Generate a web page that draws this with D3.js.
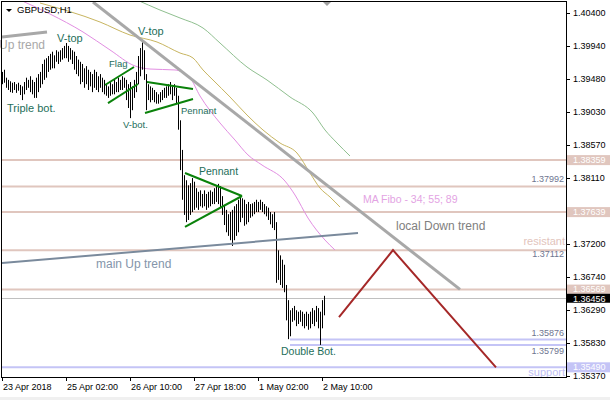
<!DOCTYPE html>
<html><head><meta charset="utf-8">
<script src="https://cdn.jsdelivr.net/npm/d3@7/dist/d3.min.js"></script>
<style>body{margin:0;background:#fff;} svg{display:block;font-family:"Liberation Sans",Arial,sans-serif;}</style>
</head><body><svg id="c" width="610" height="400"></svg>
<script>
// ---------- DATA ----------
const symbol = "GBPUSD,H1";
const highs = [
1.3958,1.3961,1.3950,1.3947,1.3945,1.3943,1.3944,1.3941,1.3943,1.3940,
1.3938,1.3944,1.3950,1.3947,1.3952,1.3947,1.3944,1.3950,1.3955,1.3958,
1.3969,1.3975,1.3977,1.3980,1.3983,1.3986,1.3981,1.3988,1.3986,1.3988,
1.3991,1.3994,1.3998,1.3994,1.3991,1.3988,1.3986,1.3980,1.3975,1.3972,
1.3969,1.3963,1.3966,1.3961,1.3958,1.3955,1.3961,1.3958,1.3952,1.3955,
1.3950,1.3947,1.3941,1.3938,1.3944,1.3941,1.3947,1.3944,1.3950,1.3947,
1.3952,1.3950,1.3947,1.3941,1.3944,1.3938,1.3947,1.3958,1.3980,1.3991,
1.3999,1.3988,1.3955,1.3941,1.3938,1.3936,1.3933,1.3930,1.3927,1.3930,
1.3933,1.3936,1.3938,1.3941,1.3944,1.3938,1.3941,1.3936,1.3925,1.3891,
1.3850,1.3815,1.3808,1.3801,1.3804,1.3811,1.3806,1.3797,1.3792,1.3794,
1.3789,1.3794,1.3789,1.3792,1.3794,1.3792,1.3797,1.3800,1.3803,1.3800,
1.3786,1.3774,1.3767,1.3761,1.3764,1.3767,1.3772,1.3775,1.3781,1.3786,
1.3783,1.3781,1.3775,1.3778,1.3775,1.3776,1.3778,1.3781,1.3778,1.3781,
1.3778,1.3775,1.3772,1.3770,1.3764,1.3761,1.3764,1.3750,1.3711,1.3704,
1.3698,1.3691,1.3663,1.3642,1.3628,1.3631,1.3634,1.3628,1.3626,1.3628,
1.3626,1.3623,1.3626,1.3623,1.3626,1.3631,1.3628,1.3634,1.3631,1.3626,
1.3642,1.3648];
const lows = [
1.3941,1.3943,1.3936,1.3933,1.3930,1.3929,1.3933,1.3929,1.3932,1.3926,
1.3919,1.3927,1.3933,1.3936,1.3930,1.3927,1.3922,1.3922,1.3930,1.3936,
1.3941,1.3947,1.3950,1.3958,1.3961,1.3963,1.3963,1.3972,1.3969,1.3972,
1.3975,1.3977,1.3977,1.3972,1.3975,1.3969,1.3961,1.3955,1.3952,1.3941,
1.3944,1.3936,1.3941,1.3933,1.3938,1.3930,1.3936,1.3933,1.3930,1.3936,
1.3930,1.3927,1.3925,1.3922,1.3925,1.3927,1.3927,1.3930,1.3930,1.3933,
1.3933,1.3936,1.3919,1.3908,1.3894,1.3905,1.3922,1.3930,1.3941,1.3952,
1.3961,1.3947,1.3905,1.3919,1.3916,1.3919,1.3916,1.3914,1.3914,1.3916,
1.3919,1.3922,1.3922,1.3925,1.3927,1.3919,1.3925,1.3914,1.3878,1.3822,
1.3781,1.3760,1.3750,1.3753,1.3760,1.3764,1.3767,1.3770,1.3767,1.3772,
1.3770,1.3772,1.3767,1.3770,1.3772,1.3775,1.3775,1.3778,1.3775,1.3770,
1.3760,1.3746,1.3736,1.3731,1.3725,1.3717,1.3725,1.3731,1.3736,1.3750,
1.3756,1.3745,1.3747,1.3750,1.3756,1.3758,1.3761,1.3764,1.3764,1.3767,
1.3764,1.3761,1.3758,1.3753,1.3747,1.3742,1.3739,1.3666,1.3670,1.3663,
1.3659,1.3653,1.3614,1.3588,1.3592,1.3612,1.3614,1.3606,1.3609,1.3612,
1.3606,1.3603,1.3606,1.3601,1.3603,1.3609,1.3606,1.3612,1.3603,1.3580,
1.3603,1.3621];
const currentPrice = 1.36456;

const yTicks = [1.40400,1.39940,1.39480,1.39030,1.38570,1.38110,1.37650,1.37200,1.36740,1.36290,1.35830,1.35370];
const xTickIdx = [0,32,64,96,128,160];
const xTickLabels = ["23 Apr 2018","25 Apr 02:00","26 Apr 10:00","27 Apr 18:00","1 May 02:00","2 May 10:00"];

// Moving averages (bar index, price)
const ma34 = [[9,1.40576],[24,1.40382],[40.5,1.40133],[54,1.39884],[66.5,1.39662],[74,1.39620],[86.5,1.39607],[94,1.39496],[99,1.39247],[109,1.38873],[116.5,1.38637],[123,1.38430],[130,1.38291],[141.5,1.38069],[146.5,1.37876],[153,1.37557],[161.5,1.37252],[166.5,1.37114]];
const ma55 = [[19,1.40534],[49,1.40271],[64,1.40091],[77.5,1.39994],[89,1.39842],[95.5,1.39773],[100.5,1.39607],[105.5,1.39468],[114,1.39233],[122.5,1.38983],[130.5,1.38776],[139,1.38596],[147.5,1.38457],[154,1.38180],[159,1.37972],[164,1.37848],[169,1.37709]];
const ma89 = [[67.5,1.40576],[79,1.40437],[89,1.40327],[100.5,1.40188],[109,1.39980],[122.5,1.39648],[132.5,1.39468],[144,1.39233],[155.5,1.39011],[161.5,1.38776],[167.5,1.38596],[174,1.38416]];

// Horizontal levels
const roseLevels = [1.38359,1.37992,1.37639,1.37112,1.36569];
const roseBoxed = [1.38359,1.37639,1.36569];
const blueLevels = [1.35876,1.35799,1.35490];
const blueStart = [144,144,0];

// Trend lines (bar index, price)
const upTrendTop = [[0,1.40063],[22.5,1.40133]];
const localDown = [[45.5,1.40548],[229,1.36569]];
const mainUp = [[0,1.36934],[178,1.37349]];
const flagUpper = [[51.5,1.39399],[66,1.39648]];
const flagLower = [[53,1.39149],[68,1.39413]];
const pen1Upper = [[72.5,1.39440],[95.5,1.39343]];
const pen1Lower = [[71.5,1.39011],[95.5,1.39205]];
const pen2Upper = [[91.5,1.38180],[120,1.37862]];
const pen2Lower = [[91.5,1.37433],[120,1.37862]];
const projection = [[168.5,1.36186],[195.5,1.37112],[247,1.35490]];

// ---------- DRAW ----------
const svg = d3.select("#c");
const L = 2, R = 566, T = 2, B = 377;
const x = d3.scaleLinear().domain([0,282]).range([L,R]);
const y = d3.scaleLinear().domain([1.35356,1.40548]).range([B,T]);

svg.append("rect").attr("x",0).attr("y",397).attr("width",610).attr("height",3).attr("fill","#f0f0f0");
svg.append("defs").append("clipPath").attr("id","pc").append("rect")
  .attr("x",L).attr("y",T).attr("width",R-L).attr("height",B-T);
const g = svg.append("g").attr("clip-path","url(#pc)");

const rose = "#e0c6be", blue = "#c4c4f6";
roseLevels.forEach(v=>{
  g.append("line").attr("x1",L).attr("x2",R).attr("y1",y(v)).attr("y2",y(v))
   .attr("stroke",rose).attr("stroke-width",2);
});
blueLevels.forEach((v,k)=>{
  g.append("line").attr("x1",x(blueStart[k])).attr("x2",R).attr("y1",y(v)).attr("y2",y(v))
   .attr("stroke",blue).attr("stroke-width",2);
});
g.append("line").attr("x1",L).attr("x2",R).attr("y1",Math.round(y(currentPrice))+0.5).attr("y2",Math.round(y(currentPrice))+0.5)
  .attr("stroke","#c0c0c0").attr("stroke-width",1);

const lineGen = d3.line().x(d=>x(d[0])).y(d=>y(d[1]));
[[ma34,"#e28ee2"],[ma55,"#c8b560"],[ma89,"#8fbf8f"]].forEach(([d,c])=>{
  g.append("path").attr("d",lineGen.curve(d3.curveMonotoneX)(d)).attr("fill","none").attr("stroke",c).attr("stroke-width",1);
});
lineGen.curve(d3.curveLinear);

// bars
g.selectAll("line.bar").data(highs).enter().append("line").attr("class","bar")
  .attr("x1",(d,i)=>Math.round(x(i))+0.5).attr("x2",(d,i)=>Math.round(x(i))+0.5)
  .attr("y1",d=>y(d)).attr("y2",(d,i)=>y(lows[i]))
  .attr("stroke","#000").attr("stroke-width",1);

function seg(d,c,w){ g.append("path").attr("d",lineGen(d)).attr("fill","none").attr("stroke",c).attr("stroke-width",w); }
seg(upTrendTop,"#a8a8a8",3);
seg(localDown,"#a8a8a8",3);
seg(mainUp,"#7a8a9c",2);
[flagUpper,flagLower,pen1Upper,pen1Lower,pen2Upper,pen2Lower].forEach(d=>seg(d,"#0a820a",2));
seg(projection,"#a52828",2);

// annotation texts
const teal = "#1e6e5a";
function txt(s,px,py,size,color,anchor){
  svg.append("text").attr("x",px).attr("y",py).attr("dy","0.35em").attr("font-size",size)
   .attr("fill",color).attr("text-anchor",anchor||"start").text(s);
}
txt("V-top",57,38,11,teal);
txt("V-top",138,31,11,teal);
txt("Flag",109,64,9.5,teal);
txt("Triple bot.",7,108,11,teal);
txt("V-bot.",123,125,9.5,teal);
txt("Pennant",181,111,9.5,teal);
txt("Pennant",199,171,10.5,teal);
txt("Double Bot.",281,351,10.5,teal);
txt("Up trend",-1,45,12,"#a8a8a8");
txt("main Up trend",96,264,12,"#8495aa");
txt("local Down trend",396,226,12,"#808080");
txt("MA Fibo - 34; 55; 89",363,199,10.5,"#e3a3e3");
txt("resistant",565,241,11,"#e2c4bc","end");
txt("support",565,372,11,"#c0c0f4","end");
txt("1.37992",564,179,9,"#6e7590","end");
txt("1.37112",564,254,9,"#6e7590","end");
txt("1.35876",564,333,9,"#6e7590","end");
txt("1.35799",564,351,9,"#6e7590","end");

// frame
svg.append("rect").attr("x",L-0.5).attr("y",T-0.5).attr("width",R-L+1).attr("height",B-T+1)
  .attr("fill","none").attr("stroke","#000").attr("stroke-width",1);

// y axis
yTicks.forEach(v=>{
  const yy = Math.round(y(v))+0.5;
  svg.append("line").attr("x1",R).attr("x2",R+4).attr("y1",yy).attr("y2",yy).attr("stroke","#000");
  txt(v.toFixed(5),573,y(v),9,"#000");
});
function box(v,fill,top,bottom,ty){
  svg.append("rect").attr("x",567).attr("y",y(v)+top).attr("width",43).attr("height",bottom-top).attr("fill",fill);
  txt(v.toFixed(5),573,y(v)+ty,9,"#fff");
}
box(roseBoxed[0],rose,-5,5,0);
box(roseBoxed[1],rose,-5,5,0);
box(roseBoxed[2],rose,-4.8,4.4,-1);
box(blueLevels[2],blue,-5,5,0);
box(currentPrice,"#000",-3.8,5.2,1.2);

// x axis
xTickIdx.forEach((idx,k)=>{
  const xx = Math.round(x(idx))+0.5;
  svg.append("line").attr("x1",xx).attr("x2",xx).attr("y1",B).attr("y2",B+4).attr("stroke","#000");
  txt(xTickLabels[k],x(idx)+1,387,9,"#000");
});

// header
svg.append("path").attr("d","M6,9 L12,9 L9,12 Z").attr("fill","#000");
txt(symbol,17,10,9.5,"#000");
// chart shift marker
svg.append("path").attr("d",`M${x(162.5)-4},2 L${x(162.5)+4},2 L${x(162.5)},6 Z`).attr("fill","#a0a0a0");
</script></body></html>
